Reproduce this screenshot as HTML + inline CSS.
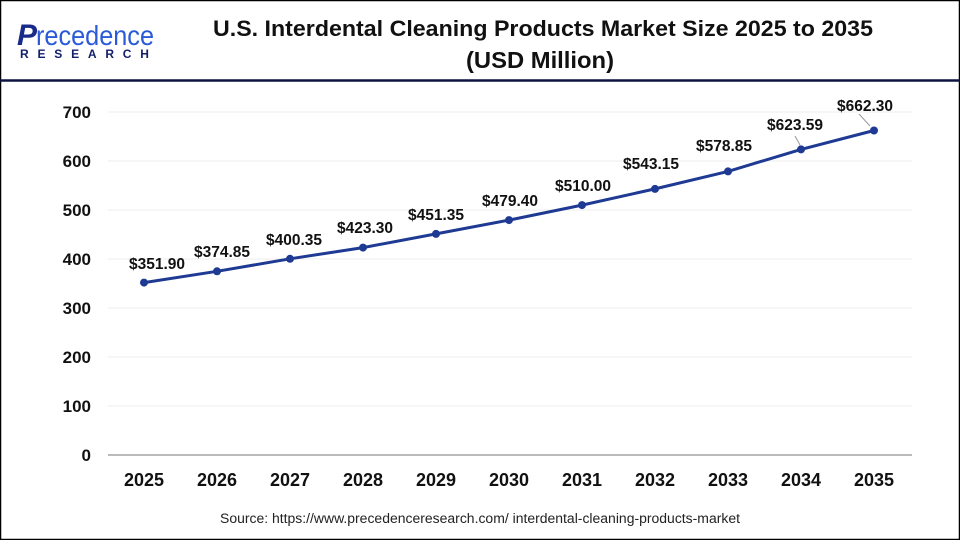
<!DOCTYPE html>
<html><head><meta charset="utf-8"><style>
body{margin:0;background:#fff}
svg{display:block}
text{font-family:"Liberation Sans",Arial,sans-serif}
</style></head><body>
<svg width="960" height="540" viewBox="0 0 960 540">
<rect x="0.5" y="0.5" width="959" height="539" fill="#fff" stroke="#000" stroke-width="1.5"/>
<line x1="0" y1="80.5" x2="960" y2="80.5" stroke="#0d1440" stroke-width="2.5"/>
<text x="17" y="45" font-size="30" fill="#1a2a8a" font-weight="bold" font-style="italic">P</text>
<text x="36" y="45" font-size="28" fill="#2a5ad8" textLength="118" lengthAdjust="spacingAndGlyphs">recedence</text>
<text x="20" y="58" font-size="12" font-weight="bold" fill="#13206a" letter-spacing="8.8">RESEARCH</text>
<text x="543" y="36" font-size="22.5" font-weight="bold" text-anchor="middle" fill="#111" textLength="660" lengthAdjust="spacingAndGlyphs">U.S. Interdental Cleaning Products Market Size 2025 to 2035</text>
<text x="540" y="68" font-size="23" font-weight="bold" text-anchor="middle" fill="#111" textLength="148" lengthAdjust="spacingAndGlyphs">(USD Million)</text>
<g stroke="#ececec" stroke-width="1">
<line x1="108" x2="912" y1="112" y2="112"/><line x1="108" x2="912" y1="161" y2="161"/>
<line x1="108" x2="912" y1="210" y2="210"/><line x1="108" x2="912" y1="259" y2="259"/>
<line x1="108" x2="912" y1="308" y2="308"/><line x1="108" x2="912" y1="357" y2="357"/>
<line x1="108" x2="912" y1="406" y2="406"/>
</g>
<line x1="108" x2="912" y1="455" y2="455" stroke="#bbb" stroke-width="2"/>
<g font-size="17" font-weight="bold" text-anchor="end" fill="#111">
<text x="91" y="118">700</text><text x="91" y="167">600</text><text x="91" y="216">500</text>
<text x="91" y="265">400</text><text x="91" y="314">300</text><text x="91" y="363">200</text>
<text x="91" y="412">100</text><text x="91" y="461">0</text>
</g>
<g font-size="18" font-weight="bold" text-anchor="middle" fill="#111">
<text x="144" y="486">2025</text><text x="217" y="486">2026</text><text x="290" y="486">2027</text>
<text x="363" y="486">2028</text><text x="436" y="486">2029</text><text x="509" y="486">2030</text>
<text x="582" y="486">2031</text><text x="655" y="486">2032</text><text x="728" y="486">2033</text>
<text x="801" y="486">2034</text><text x="874" y="486">2035</text>
</g>
<polyline fill="none" stroke="#1f3a93" stroke-width="3" points="144,282.6 217,271.3 290,258.8 363,247.6 436,233.9 509,220.1 582,205.1 655,188.9 728,171.4 801,149.4 874,130.5"/>
<g fill="#1f3a93">
<circle cx="144" cy="282.6" r="4"/><circle cx="217" cy="271.3" r="4"/><circle cx="290" cy="258.8" r="4"/>
<circle cx="363" cy="247.6" r="4"/><circle cx="436" cy="233.9" r="4"/><circle cx="509" cy="220.1" r="4"/>
<circle cx="582" cy="205.1" r="4"/><circle cx="655" cy="188.9" r="4"/><circle cx="728" cy="171.4" r="4"/>
<circle cx="801" cy="149.4" r="4"/><circle cx="874" cy="130.5" r="4"/>
</g>
<line x1="795" y1="136" x2="800" y2="145" stroke="#999"/>
<line x1="859" y1="114" x2="870" y2="126" stroke="#999"/>
<g font-size="15.5" font-weight="bold" text-anchor="middle" fill="#111">
<text x="157" y="269">$351.90</text><text x="222" y="257">$374.85</text><text x="294" y="245">$400.35</text>
<text x="365" y="233">$423.30</text><text x="436" y="220">$451.35</text><text x="510" y="206">$479.40</text>
<text x="583" y="191">$510.00</text><text x="651" y="169">$543.15</text><text x="724" y="151">$578.85</text>
<text x="795" y="130">$623.59</text><text x="865" y="111">$662.30</text>
</g>
<text x="480" y="523" font-size="13.5" text-anchor="middle" fill="#222" textLength="520" lengthAdjust="spacingAndGlyphs">Source: https://www.precedenceresearch.com/ interdental-cleaning-products-market</text>
</svg>
</body></html>
